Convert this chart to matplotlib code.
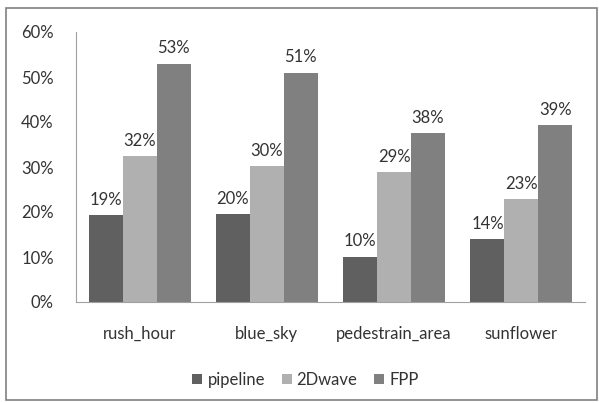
import matplotlib.pyplot as plt
import numpy as np
from matplotlib.patches import Rectangle
from matplotlib.ticker import FuncFormatter

categories = ['rush_hour', 'blue_sky', 'pedestrain_area', 'sunflower']
pipeline = [19.3, 19.6, 10.1, 14.0]
wave2d = [32.4, 30.2, 28.8, 22.9]
fpp = [53.0, 51.0, 37.6, 39.3]
series_names = ['pipeline', '2Dwave', 'FPP']


def main():
    plt.rcParams['font.family'] = ['Lato', 'DejaVu Sans']
    fig = plt.figure(figsize=(5.99, 4.03), dpi=100)
    ax = fig.add_axes([76 / 599, 1 - 302 / 403, (585 - 76) / 599, 270 / 403])

    colors = ['#606060', '#b0b0b0', '#808080']
    fs = 12
    w = 1 / 3.75
    x = np.arange(len(categories))
    for i, (name, vals) in enumerate(zip(series_names, [pipeline, wave2d, fpp])):
        pos = x + (i - 1) * w
        bars = ax.bar(pos, vals, w, color=colors[i], label=name)
        for b, v in zip(bars, vals):
            ax.text(b.get_x() + b.get_width() / 2, v + 1.6, f'{round(v)}%',
                    ha='center', va='bottom', fontsize=fs, color='#333333')

    ax.set_xlim(-0.5, len(categories) - 0.5)
    ax.set_ylim(0, 60)
    ax.set_yticks(range(0, 61, 10))
    ax.yaxis.set_major_formatter(FuncFormatter(lambda v, p: f'{int(v)}%'))
    ax.set_xticks(x)
    ax.set_xticklabels(categories)
    ax.tick_params(axis='both', length=0, labelsize=fs, colors='#333333')
    ax.tick_params(axis='x', pad=17)
    ax.tick_params(axis='y', pad=16)
    for s in ['top', 'right']:
        ax.spines[s].set_visible(False)
    for s in ['left', 'bottom']:
        ax.spines[s].set_color('#a0a0a0')

    fig.legend(loc='center', bbox_to_anchor=(0.51, 1 - 380 / 403), ncol=3,
               frameon=False, fontsize=fs, handlelength=0.6, handleheight=0.6,
               handletextpad=0.3, columnspacing=1.0, labelcolor='#333333')

    fig.patches.append(Rectangle((6 / 599, 3 / 403), 591 / 599, 392 / 403,
                                 transform=fig.transFigure, fill=False,
                                 edgecolor='#808080', linewidth=1.2))

    fig.savefig('out.png', dpi=100)


if __name__ == '__main__':
    main()
